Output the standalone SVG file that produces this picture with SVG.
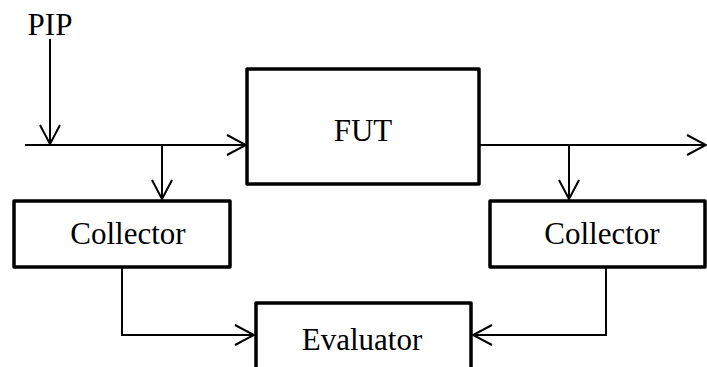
<svg xmlns="http://www.w3.org/2000/svg" width="707" height="367" viewBox="0 0 707 367">
<style>
.box{fill:#fff;stroke:#000;stroke-width:3.5;stroke-linejoin:round}
.ln{fill:none;stroke:#000;stroke-width:2}
.t{font-family:"Liberation Serif","Times New Roman",serif;font-size:31px;fill:#000;text-anchor:middle}
</style>
<defs>
<marker id="ah" viewBox="-20 -11 22 22" refX="0" refY="0" markerWidth="22" markerHeight="22" markerUnits="userSpaceOnUse" orient="auto">
<path d="M-19,-10 L0,0 L-19,10" fill="none" stroke="#000" stroke-width="2"/>
</marker>
</defs>
<g id="connectors">
<path class="ln" d="M50,39 V144" marker-end="url(#ah)"/>
<path class="ln" d="M25,145 H246" marker-end="url(#ah)"/>
<path class="ln" d="M162,145 V199" marker-end="url(#ah)"/>
<path class="ln" d="M479,145 H706" marker-end="url(#ah)"/>
<path class="ln" d="M569,145 V199" marker-end="url(#ah)"/>
<path class="ln" d="M122,267 V335 H254" marker-end="url(#ah)"/>
<path class="ln" d="M606,267 V335 H473" marker-end="url(#ah)"/>
</g>
<g id="pip"><text class="t" x="50" y="35">PIP</text></g>
<g id="fut"><rect class="box" x="247" y="69" width="232" height="115"/><text class="t" x="363" y="141">FUT</text></g>
<g id="collector1"><rect class="box" x="14" y="201" width="216" height="66"/><text class="t" x="128" y="244">Collector</text></g>
<g id="collector2"><rect class="box" x="490" y="201" width="215" height="66"/><text class="t" x="602" y="244">Collector</text></g>
<g id="evaluator"><rect class="box" x="256" y="303" width="215" height="80"/><text class="t" x="362" y="350">Evaluator</text></g>
</svg>
